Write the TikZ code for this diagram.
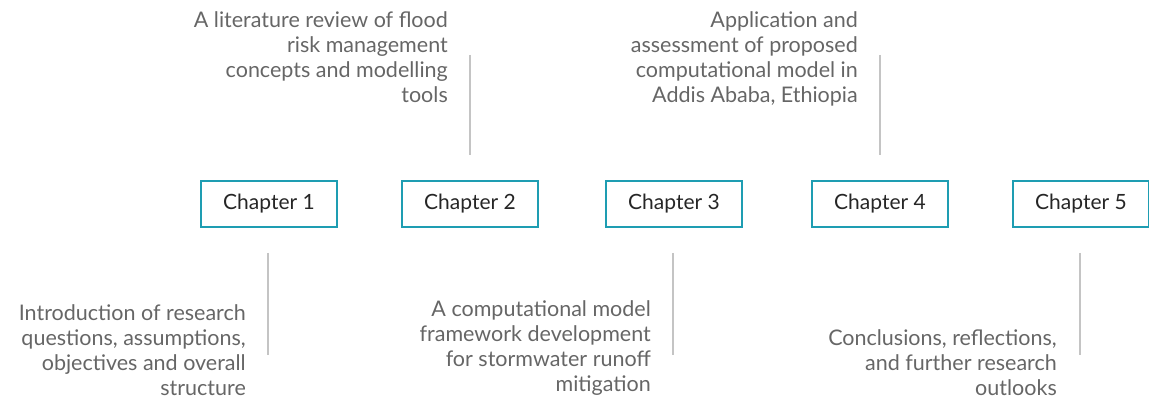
\documentclass[tikz,border=0pt]{standalone}
\usepackage{fontspec}
\setmainfont{Lato}
\definecolor{chapteal}{HTML}{1E9DB2}
\definecolor{notegray}{HTML}{666666}
\definecolor{tickgray}{HTML}{C4C4C4}
\tikzset{
  chapbox/.style={draw=chapteal, line width=2.6pt, minimum width=136pt, minimum height=46pt, text=black!85, font=\fontsize{21}{24}\selectfont},
  note/.style={align=right, text=notegray, inner sep=0pt, font=\fontsize{21.5}{25}\selectfont},
  tick/.style={draw=tickgray, line width=1.8pt}
}
\begin{document}
\begin{tikzpicture}[x=1pt, y=-1pt]
\useasboundingbox (0,0) rectangle (1149,398);
\node[chapbox] (c1) at (269,204) {Chapter 1};
\node[chapbox] (c2) at (470,204) {Chapter 2};
\node[chapbox] (c3) at (674,204) {Chapter 3};
\node[chapbox] (c4) at (880,204) {Chapter 4};
\node[chapbox] (c5) at (1081,204) {Chapter 5};
% descriptions above and below
\node[note, anchor=north east] (t2) at (448,11) {A literature review of flood\\risk management\\concepts and modelling\\tools};
\node[note, anchor=north east] (t4) at (858,11) {Application and\\assessment of proposed\\computational model in\\Addis Ababa, Ethiopia};
\node[note, anchor=south east] (t1) at (246,396) {Introduction of research\\questions, assumptions,\\objectives and overall\\structure};
\node[note, anchor=south east] (t3) at (651,396) {A computational model\\framework development\\for stormwater runoff\\mitigation};
\node[note, anchor=south east] (t5) at (1057,396) {Conclusions, reflections,\\and further research\\outlooks};
% tick lines
\coordinate (a2) at (470,55);
\coordinate (b2) at (470,155);
\coordinate (a4) at (880,55);
\coordinate (b4) at (880,155);
\coordinate (a1) at (268,253);
\coordinate (b1) at (268,355);
\coordinate (a3) at (673,253);
\coordinate (b3) at (673,355);
\coordinate (a5) at (1080,253);
\coordinate (b5) at (1080,355);
\draw[tick] (a2) -- (b2);
\draw[tick] (a4) -- (b4);
\draw[tick] (a1) -- (b1);
\draw[tick] (a3) -- (b3);
\draw[tick] (a5) -- (b5);
\end{tikzpicture}
\end{document}
